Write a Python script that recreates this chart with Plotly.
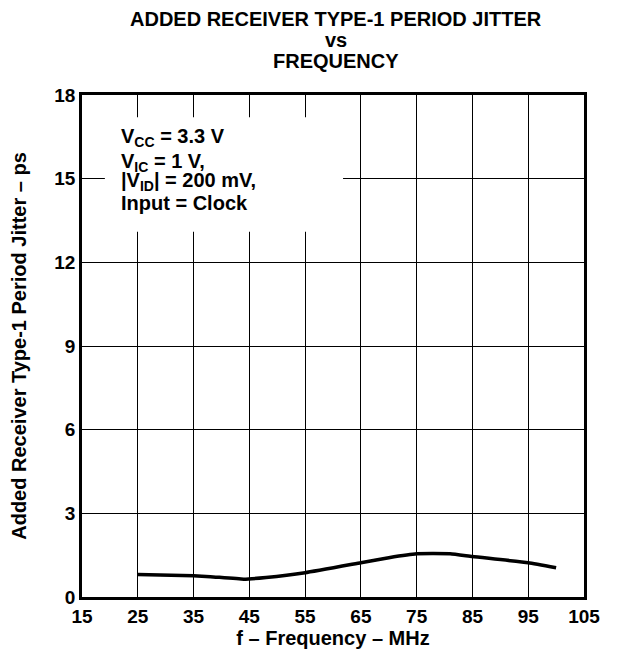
import plotly.graph_objects as go

freq_mhz = [25, 35, 38, 44, 48, 55, 65, 70, 75, 81, 85, 95, 100]
jitter_ps = [0.81, 0.76, 0.73, 0.64, 0.70, 0.87, 1.23, 1.41, 1.55, 1.55, 1.45, 1.23, 1.05]

x_ticks = [15, 25, 35, 45, 55, 65, 75, 85, 95, 105]
y_ticks = [0, 3, 6, 9, 12, 15, 18]

title_lines = ["ADDED RECEIVER TYPE-1 PERIOD JITTER", "vs", "FREQUENCY"]
cond_lines = ["V<sub>CC</sub> = 3.3 V", "V<sub>IC</sub> = 1 V,",
              "|V<sub>ID</sub>| = 200 mV,", "Input = Clock"]

FONT = "Liberation Sans, Arial, sans-serif"
FS = 19

# figure geometry (page has an 8px body margin)
W, H = 611, 652
ML, MR, MT, MB = 74, 35, 87, 63
PH = H - MT - MB

fig = go.Figure()
fig.add_trace(go.Scatter(x=freq_mhz, y=jitter_ps, mode="lines",
                         line=dict(color="black", width=3.5, shape="spline", smoothing=0.4),
                         showlegend=False, hoverinfo="skip"))

fig.update_layout(
    width=W, height=H,
    margin=dict(l=ML, r=MR, t=MT, b=MB),
    paper_bgcolor="white", plot_bgcolor="white",
    font=dict(family=FONT, size=FS, color="black", weight="bold"),
    xaxis=dict(range=[15, 105], tickvals=x_ticks, ticktext=[str(v) for v in x_ticks],
               showgrid=True, gridcolor="black", gridwidth=1,
               showline=True, linecolor="black", linewidth=2.5, mirror=True,
               ticks="", zeroline=False, automargin=False,
               tickfont=dict(family=FONT, size=FS, weight="bold"),
               title=dict(text="f – Frequency – MHz", standoff=5,
                          font=dict(family=FONT, size=20, weight="bold"))),
    yaxis=dict(range=[0, 18], tickvals=y_ticks, ticktext=[str(v) for v in y_ticks],
               showgrid=True, gridcolor="black", gridwidth=1,
               showline=True, linecolor="black", linewidth=2.5, mirror=True,
               ticks="", zeroline=False, automargin=False,
               tickfont=dict(family=FONT, size=FS, weight="bold"),
               title=dict(text="Added Receiver Type-1 Period Jitter – ps", standoff=24,
                          font=dict(family=FONT, size=20, weight="bold"))),
)

# title lines as separate annotations for tight line spacing
for t, ypix in zip(title_lines, [11, 32, 53]):
    fig.add_annotation(text=t, xref="paper", yref="paper", x=0.506, y=1 + (MT - ypix) / PH,
                       xanchor="center", yanchor="middle", showarrow=False,
                       font=dict(family=FONT, size=20, color="black", weight="bold"))

fig.add_shape(type="rect", xref="x", yref="y", x0=19.1, x1=61.8, y0=13.1, y1=17.2,
              fillcolor="white", line=dict(width=0), layer="above")

for t, yv in zip(cond_lines, [16.49, 15.59, 14.91, 14.13]):
    fig.add_annotation(text=t, xref="x", yref="y", x=21.7, y=yv,
                       xanchor="left", yanchor="middle", showarrow=False,
                       font=dict(family=FONT, size=20, color="black", weight="bold"))

fig.write_html("out.html")
